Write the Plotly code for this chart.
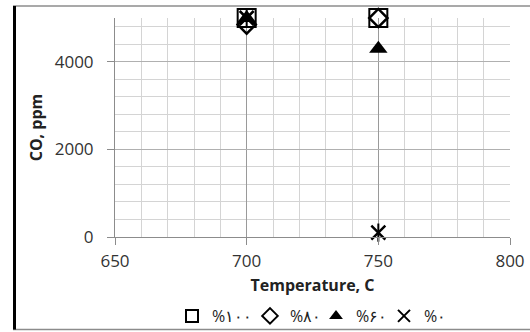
import plotly.graph_objects as go

temperatures = [700, 750]
series_names = ["%۱۰۰", "%۸۰", "%۶۰", "%۰"]
co_100 = [5000, 5000]
co_80 = [4850, 5000]
co_60 = [5000, 4300]
co_0 = [5000, 100]

x_ticks = [650, 700, 750, 800]
y_ticks = [0, 2000, 4000]

FONT = "Open Sans"
fig = go.Figure()

fig.add_trace(go.Scatter(x=temperatures, y=co_100, mode="markers", name=series_names[0],
                         cliponaxis=False, legendwidth=33,
                         marker=dict(symbol="square-open", size=18, color="black",
                                     line=dict(width=2, color="black"))))
fig.add_trace(go.Scatter(x=temperatures, y=co_80, mode="markers", name=series_names[1],
                         cliponaxis=False, legendwidth=21,
                         marker=dict(symbol="diamond-open", size=14, color="black",
                                     line=dict(width=2.5, color="black"))))
fig.add_trace(go.Scatter(x=temperatures, y=co_60, mode="markers", name=series_names[2],
                         cliponaxis=False, legendwidth=23,
                         marker=dict(symbol="triangle-up", size=16, color="black",
                                     line=dict(width=0))))
fig.add_trace(go.Scatter(x=temperatures, y=co_0, mode="markers", name=series_names[3],
                         cliponaxis=False, legendgroup="zero", legendwidth=30,
                         marker=dict(symbol="x-thin-open", size=14, color="black",
                                     line=dict(width=2.5, color="black"))))
fig.add_trace(go.Scatter(x=temperatures, y=co_0, mode="markers", showlegend=False,
                         cliponaxis=False, legendgroup="zero", hoverinfo="skip",
                         marker=dict(symbol="line-ns-open", size=13, color="black",
                                     line=dict(width=2, color="black"))))

# plot area in pixels: x 115..510, y 18..236.7
W, H = 530, 332
L, R, T, B = 115, 20, 18, 95.3
pw, ph = W - L - R, H - T - B

def px(xp):
    return (xp - L) / pw

def py(yp):
    return (H - B - yp) / ph

fig.update_layout(
    width=W, height=H,
    margin=dict(l=L, r=R, t=T, b=B, autoexpand=False),
    paper_bgcolor="white", plot_bgcolor="white",
    font=dict(family=FONT, size=16, color="#222"),
    showlegend=True,
    legend=dict(orientation="h", xref="container", yref="container",
                x=172 / W, xanchor="left", y=(H - 316) / H, yanchor="middle",
                font=dict(family=FONT, size=16, color="#222"),
                itemwidth=30, tracegroupgap=0, itemsizing="constant",
                bgcolor="rgba(0,0,0,0)"),
    xaxis=dict(range=[650, 800], tickvals=x_ticks, ticktext=[str(v) for v in x_ticks],
               showgrid=True, gridcolor="#9a9a9a", gridwidth=1,
               minor=dict(dtick=10, tick0=650, showgrid=True, gridcolor="#d4d4d4", gridwidth=1,
                          ticks=""),
               showline=True, linecolor="#8c8c8c", linewidth=1,
               ticks="outside", ticklen=7, tickcolor="#8c8c8c", ticklabelstandoff=2,
               zeroline=False, tickfont=dict(size=17, color="#333"),
               title=dict(text="<b>Temperature, C</b>", font=dict(size=16, color="#222"), standoff=8)),
    yaxis=dict(range=[0, 5000], tickvals=y_ticks, ticktext=[str(v) for v in y_ticks],
               showgrid=True, gridcolor="#b0b0b0", gridwidth=1,
               minor=dict(dtick=400, tick0=0, showgrid=True, gridcolor="#d4d4d4", gridwidth=1,
                          ticks=""),
               showline=True, linecolor="#8c8c8c", linewidth=1,
               ticks="outside", ticklen=7, tickcolor="#8c8c8c", ticklabelstandoff=10,
               zeroline=False, tickfont=dict(size=17, color="#333"),
               title=dict(text="<b>CO, ppm</b>", font=dict(size=16, color="#222"), standoff=8)),
)

# chart frame
frame = [
    dict(x0=px(13), x1=px(530), y0=py(6), y1=py(6), color="#8c8c8c", w=1.5),
    dict(x0=px(13), x1=px(530), y0=py(329), y1=py(329), color="#8c8c8c", w=1.5),
    dict(x0=px(14.5), x1=px(14.5), y0=py(6), y1=py(329), color="black", w=3),
]
for f in frame:
    fig.add_shape(type="line", xref="paper", yref="paper", x0=f["x0"], x1=f["x1"],
                  y0=f["y0"], y1=f["y1"], line=dict(color=f["color"], width=f["w"]))

fig.write_html("out.html", config={"displayModeBar": False},
               post_script="document.body.style.margin='0';document.body.style.overflow='hidden';")
